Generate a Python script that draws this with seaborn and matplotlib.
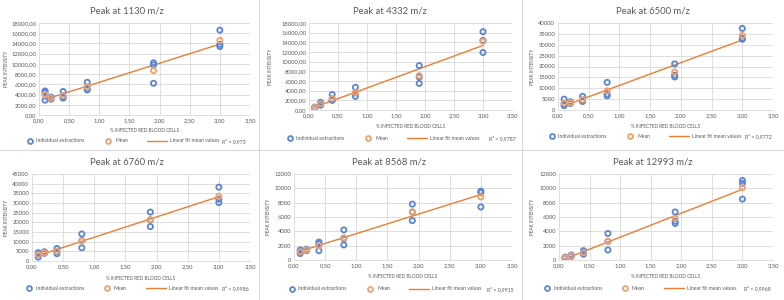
import numpy as np
import pandas as pd
import seaborn as sns
import matplotlib.pyplot as plt
from matplotlib.ticker import FuncFormatter, MultipleLocator
from matplotlib.lines import Line2D

# x values: % infected red blood cells
x_pct = [0.1, 0.2, 0.4, 0.8, 1.9, 3.0]

peaks = ['1130', '4332', '6500', '6760', '8568', '12993']

# individual extractions, 3 per concentration
ind_1130 = [[4700, 4400, 2900], [3500, 3300, 3100], [4600, 3500, 3300],
            [6400, 5100, 4900], [10200, 9800, 6200], [16600, 13800, 13400]]
ind_4332 = [[600, 500, 400], [1600, 1300, 1000], [3200, 2100, 2000],
            [4700, 3500, 2800], [9200, 6800, 5500], [16200, 14400, 11900]]
ind_6500 = [[5000, 2800, 2000], [3800, 3400, 3000], [6300, 4300, 3900],
            [12700, 7300, 6500], [21200, 16000, 15200], [37500, 33000, 32500]]
ind_6760 = [[4300, 3300, 2000], [4800, 4200, 4000], [6500, 5000, 3800],
            [14000, 10500, 6800], [25300, 21200, 17800], [38200, 32000, 30200]]
ind_8568 = [[1400, 1200, 900], [1500, 1400, 1300], [2500, 2300, 1300],
            [4200, 3000, 2100], [7800, 6700, 5500], [9600, 9400, 7400]]
ind_12993 = [[400, 300, 250], [700, 600, 500], [1300, 1000, 800],
             [3700, 2600, 1400], [6700, 5400, 5100], [11100, 10700, 8500]]

# mean values
mean_1130 = [4000, 3300, 3800, 5500, 8700, 14600]
mean_4332 = [500, 1300, 2400, 3600, 7100, 14200]
mean_6500 = [3200, 3400, 4800, 8800, 17500, 34300]
mean_6760 = [3200, 4300, 5100, 10400, 21400, 33500]
mean_8568 = [1150, 1400, 2000, 3100, 6700, 8800]
mean_12993 = [320, 600, 1000, 2600, 5800, 10100]

r2_labels = ['R² = 0,973', 'R² = 0,9787', 'R² = 0,9772',
             'R² = 0,9986', 'R² = 0,9915', 'R² = 0,9968']

individuals = [ind_1130, ind_4332, ind_6500, ind_6760, ind_8568, ind_12993]
means = [mean_1130, mean_4332, mean_6500, mean_6760, mean_8568, mean_12993]

y_max = [18000, 18000, 40000, 45000, 12000, 12000]
y_step = [2000, 2000, 5000, 5000, 2000, 2000]
y_dec = [2, 2, 0, 0, 0, 0]

# layout in pixels (left, top, right, bottom) of plot area
W, H = 784, 300
areas = [(39, 23, 250, 115), (309, 23, 512, 110), (558, 23, 773, 110),
         (32, 174, 250, 261), (294, 174, 512, 260), (559, 174, 773, 260)]
title_pos = [(127, 11), (390, 11), (653, 11), (127, 162), (389, 162), (653, 162)]
ylab_x = [7, 270, 533, 7, 268, 533]
xlab_y = [130, 127, 127, 278, 277, 277]
leg_x = [30, 290, 552, 29, 292, 547]
leg_y = [141, 138, 136, 288, 289, 288]
r2_x = [222, 489, 745, 222, 487, 744]

BLUE = '#5b86d6'
ORANGE = '#ED7D31'
ORANGE_M = '#f0a06a'
GRID = '#d9d9d9'
TXT = '#595959'

sns.set_theme(style='white')
plt.rcParams['font.family'] = ['Lato', 'DejaVu Sans']

fig = plt.figure(figsize=(W / 100, H / 100), dpi=100)
fig.patch.set_facecolor('white')

# panel separators
for xs in [259, 522]:
    fig.add_artist(Line2D([xs / W, xs / W], [0, 1], color=GRID, lw=0.8))
fig.add_artist(Line2D([0, 1], [1 - 150 / H, 1 - 150 / H], color=GRID, lw=0.8))


def fx(px):
    return px / W


def fy(py):
    return 1 - py / H


def fmt_factory(dec):
    if dec:
        return FuncFormatter(lambda v, p: f'{v:.2f}'.replace('.', ','))
    return FuncFormatter(lambda v, p: f'{v:.0f}')


for i in range(6):
    l, t, r, b = areas[i]
    ax = fig.add_axes([fx(l), fy(b), (r - l) / W, (b - t) / H])

    df_ind = pd.DataFrame({
        'x': [x_pct[k] for k in range(6) for _ in individuals[i][k]],
        'y': [v for row in individuals[i] for v in row],
    })
    df_mean = pd.DataFrame({'x': x_pct, 'y': means[i]})
    slope, icpt = np.polyfit(df_mean['x'], df_mean['y'], 1)
    df_fit = pd.DataFrame({'x': x_pct, 'y': slope * np.array(x_pct) + icpt})

    sns.lineplot(data=df_fit, x='x', y='y', color=ORANGE, lw=1.0, ax=ax, zorder=2)
    sns.scatterplot(data=df_ind, x='x', y='y', ax=ax, s=14, facecolors='none',
                    edgecolor=BLUE, linewidth=1.3, zorder=3)
    sns.scatterplot(data=df_mean, x='x', y='y', ax=ax, s=14, facecolors='none',
                    edgecolor=ORANGE_M, linewidth=1.3, zorder=4)

    ax.set_xlim(0, 3.5)
    ax.set_ylim(0, y_max[i])
    ax.xaxis.set_major_locator(MultipleLocator(0.5))
    ax.yaxis.set_major_locator(MultipleLocator(y_step[i]))
    ax.xaxis.set_major_formatter(FuncFormatter(lambda v, p: f'{v:.2f}'.replace('.', ',')))
    ax.yaxis.set_major_formatter(fmt_factory(y_dec[i]))
    ax.grid(True, color=GRID, lw=0.6)
    ax.set_axisbelow(True)
    for s in ['top', 'right', 'left']:
        ax.spines[s].set_visible(False)
    ax.spines['bottom'].set_color(GRID)
    ax.spines['bottom'].set_linewidth(0.6)
    ax.tick_params(labelsize=4.2, colors=TXT, length=0, pad=2)
    ax.set_xlabel('')
    ax.set_ylabel('')

    tx, ty = title_pos[i]
    fig.text(fx(tx), fy(ty), f'Peak at {peaks[i]} m/z', ha='center', va='center',
             fontsize=6.8, color=TXT)
    fig.text(fx(ylab_x[i]), fy((t + b) / 2), 'PEAK INTENSITY', rotation=90,
             ha='center', va='center', fontsize=3.4, color=TXT)
    fig.text(fx((l + r) / 2), fy(xlab_y[i]), '% INFECTED RED BLOOD CELLS',
             ha='center', va='center', fontsize=3.4, color=TXT)

    # legend row under each panel
    x0, ly = leg_x[i], leg_y[i]
    fig.add_artist(Line2D([fx(x0)], [fy(ly)], ls='none', marker='o', ms=3.5,
                          mfc='none', mec=BLUE, mew=1.3))
    fig.text(fx(x0 + 6.5), fy(ly), 'Individual extractions', ha='left', va='center',
             fontsize=3.7, color=TXT)
    fig.add_artist(Line2D([fx(x0 + 78)], [fy(ly)], ls='none', marker='o', ms=3.5,
                          mfc='none', mec=ORANGE_M, mew=1.3))
    fig.text(fx(x0 + 85), fy(ly), 'Mean', ha='left', va='center',
             fontsize=3.7, color=TXT)
    fig.add_artist(Line2D([fx(x0 + 117), fx(x0 + 137)], [fy(ly), fy(ly)],
                          color=ORANGE, lw=1.0))
    fig.text(fx(x0 + 140), fy(ly), 'Linear fit mean values', ha='left', va='center',
             fontsize=3.7, color=TXT)
    fig.text(fx(r2_x[i]), fy(ly), r2_labels[i], ha='left', va='center',
             fontsize=3.7, color=TXT)

fig.savefig('out.png', dpi=100)
